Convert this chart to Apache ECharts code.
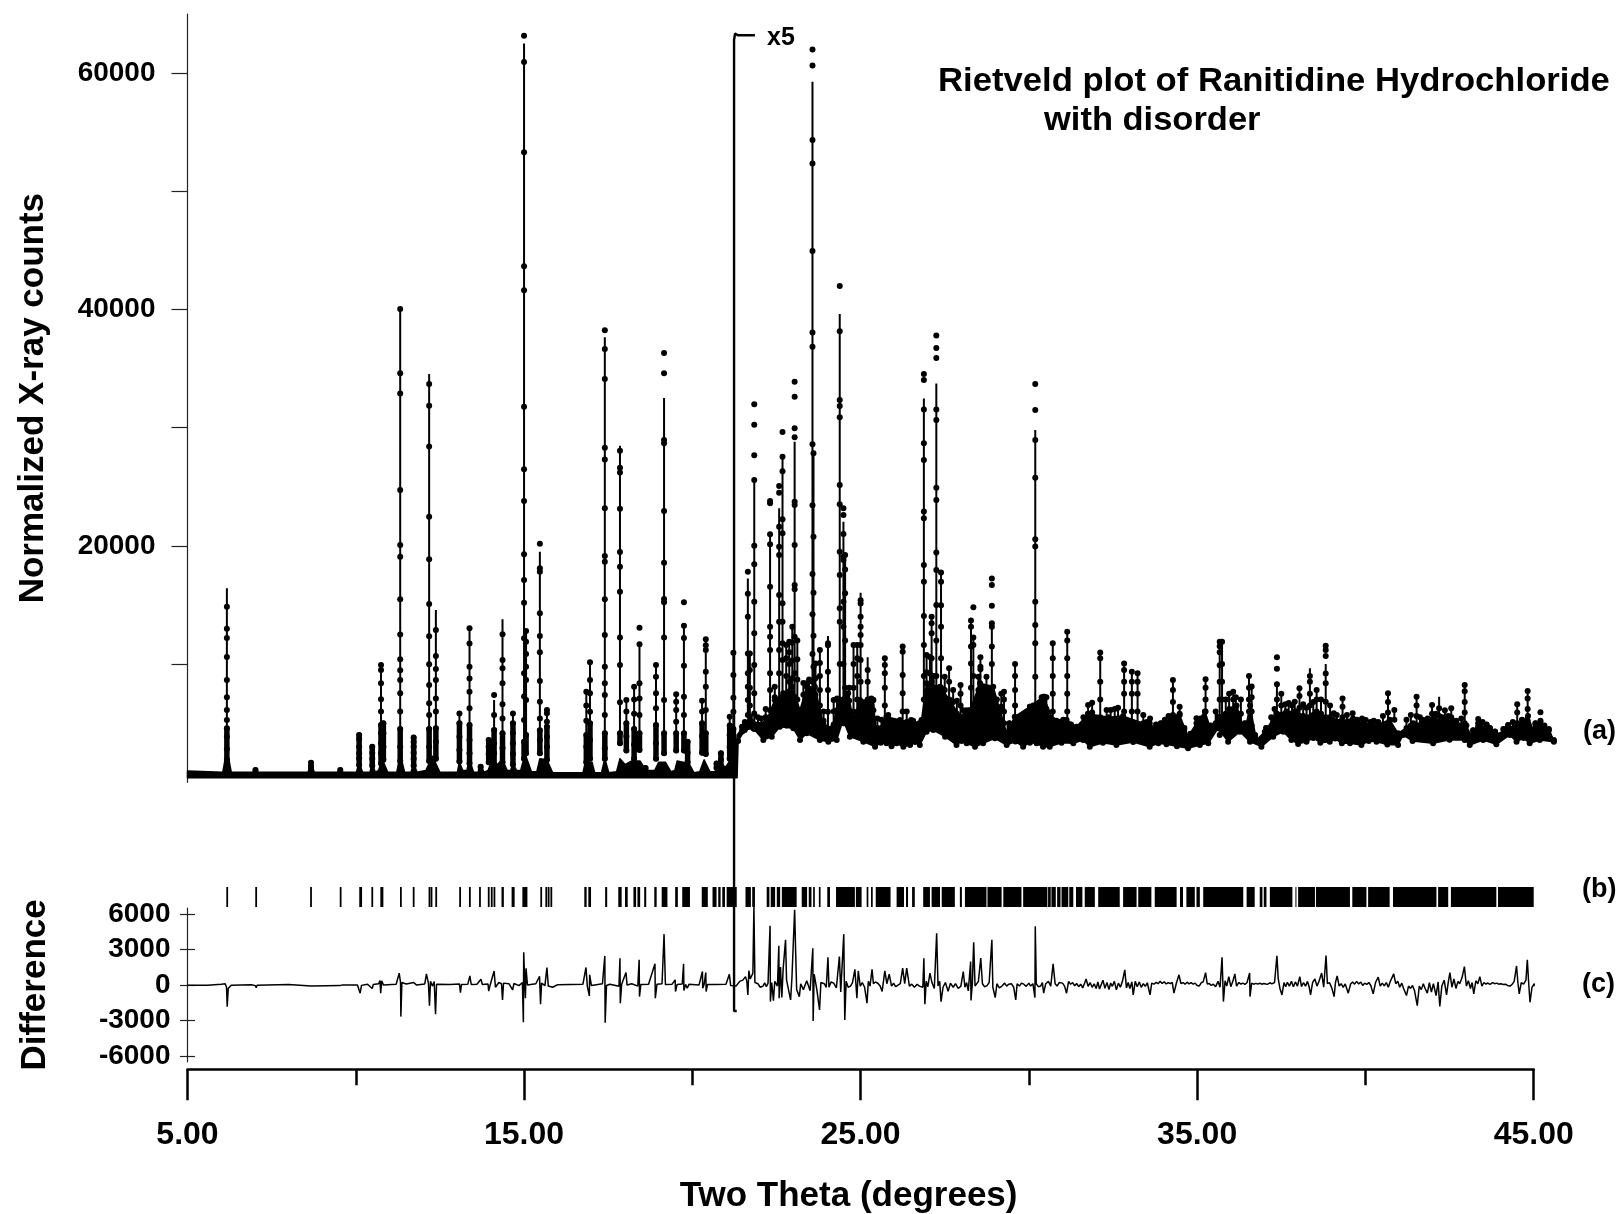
<!DOCTYPE html>
<html><head><meta charset="utf-8"><title>Rietveld plot</title>
<script src="https://cdn.jsdelivr.net/npm/echarts@6/dist/echarts.min.js"></script>
<style>html,body{margin:0;padding:0;background:#fff}#c{width:1620px;height:1214px}</style></head>
<body><div id="c"></div>
<script>
// Peak rows: [two theta, calculated top, observed dots...]
const peaksLow = [
[6.17,16410,14860,12990,12210,10600,8650,7190,6120,5270,4570,3860,2820,1890],
[7.02,1040,1040,800],[8.67,1660,1660,1300,900],[9.54,1040,1040,800],
[10.10,4000,4000,3660,3010,2450,2030,1460],[10.49,3100,3000,2500,2000,1400],
[10.75,10100,9920,9500,8370,7020,5980,4850,4140,3300,2450,1600],[10.82,5000,4990,4140,3000,1900],
[11.32,40000,40040,34600,32900,24730,20070,19090,15480,12500,10400,9470,8650,7530,6000,4500,3000,1800],
[11.72,3900,3800,3400,3000,2500,2000,1400],
[12.18,34540,33700,31860,28400,22470,18860,15080,12350,9980,8230,6680,5700,4500,3000,1800],
[12.38,14580,12880,10690,9580,8650,7100,6000,4570,3430,2000],
[13.08,6000,5820,4990,3860,2730,1750],[13.38,13030,13030,11750,9780,8790,7670,6260,4850,3580,2450,1600],
[13.71,1320,1320,900],[13.95,3580,3580,3000,2400,1700],[14.11,6960,7390,5690,4430,3300,2450,1500],
[14.36,13790,12520,10340,9640,8370,6600,5400,4140,2900,1700],[14.67,5830,5830,5000,4200,3300,2400,1500],
[15.00,62500,63170,60930,53300,43650,41620,31780,26480,23800,19290,17110,15200,12180,9220,7250,5270,3440,2000],
[15.06,12890,12800,11900,10850,9780,8650,6960,4000,2450],
[15.47,19510,20190,18100,17820,14300,12380,11000,8570,6820,5400,4410,3580,2450],
[15.68,6300,6120,5840,5130,4710,3860,3000,1900],
[16.85,7670,7670,6500,5200,4000,3000,1700],[16.96,10300,10150,8650,7530,5970,4990,3580,2000],
[17.40,37660,38250,36650,34110,28310,27320,23180,19150,18660,15480,12460,9780,8370,7390,5700,4140,2880,2000],
[17.85,28480,28060,26620,26200,23150,19480,18240,16130,12240,9920,6780,4140,3300],
[18.04,6960,6960,6000,5000,3900,2700],[18.27,8090,8090,7000,5800,4500,3200,2000],
[18.43,11470,13080,11670,8370,7100,5700,4140,2740],[18.61,1200,1200,900],
[18.92,10060,9920,8930,7530,6260,4850,3300,2000],
[19.16,32510,36330,34600,28960,28680,22950,18580,15510,15230,12240,6960,4140,2450],
[19.52,7530,7440,6820,6120,5130,4140,2700],[19.75,13250,15230,13250,12210,9870,7240,5690,4140,2700],
[19.86,3440,3440,2500,1700],[20.29,6960,6900,6000,5000,3900,2500],
[20.40,12100,12100,11600,11200,9360,8090,6120,4140,2400],
[20.72,1600,1600,1200],[20.85,2450,2450,1900,1400],[21.11,5550,5550,4800,4000,3000,2000],
[21.22,10970,10970,9080,7160,5970,4500,3000,2000]
];
const peaksMid = [
[21.65,17250,17820,15950,14010,10900,9220,8090,6960,5700],
[21.84,25430,31980,30260,27660,25570,20020,18440,15280,12600,9920,7530,5830,4500],
[22.31,21000,23800,23600,20980,20130,16550,13170,12320,11190,9220,7800,6100,4700],
[22.58,23180,25070,24500,21620,19930,19230,15840,13590,11190,9220,7000,5000],
[22.68,27550,29640,27550,26310,22250,21060,15140,13590,11760,10340,7000,5000],
[22.79,11620,11620,10500,9000,7500,6000,4800],[22.88,11900,11900,11000,10000,8500,7000,5000],
[23.04,28820,33880,32620,29950,29190,23740,23460,20070,16690,16330,12320,9220,7240,5830],
[23.40,8370,8370,7500,6500,5000],
[23.57,59270,62000,60650,54330,52360,44950,38060,36850,28590,23430,17620,14210,10860,8500,6000],
[23.60,27830,27830,20780,16040,12400,9780,7000,5000],
[23.79,11190,11190,10100,9000,7800,6500,5000],[24.03,12380,11760,11600,9360,7800,5970,4500],
[24.38,39620,41990,38150,32340,31830,30880,25150,23520,19510,17540,14720,13590,10000,7000,5000],
[24.49,22050,23180,22610,21000,19090,18800,15280,13170,10000,7000,5000],
[24.54,19230,19230,18000,16000,12000,8000,5000],[24.79,11620,11620,10000,8000,6000,4500],
[24.90,11620,11620,10500,9000,7000,5000],
[25.00,16040,15400,15130,14010,13170,12460,11620,10350,8500,6500,5000],
[25.21,10570,9500,8500,7000,5500,4500],[25.32,7100,7100,6500,5500,4500],
[25.72,10490,10490,9920,9220,8000,6500,5000],[26.25,11480,11480,11050,9080,7530,6000,4700],
[26.50,5270,5270,4500],
[26.88,32480,34540,34030,31550,28680,27270,22900,22330,18380,16970,14070,11620,9000,7000,5000],
[27.11,14010,14010,13450,12600,10500,8500,6500,5000],
[27.25,33750,37790,36740,35890,31550,30650,24920,23880,19450,17960,15000,12000,9000,7000,5000],
[27.39,17760,17760,16970,14970,13170,10500,8000,5500],[27.63,9640,9640,8500,7000,5500],
[27.97,8230,8230,7500,6500,5000],[28.28,13680,13680,13170,11480,10060,8000,6000,4700],
[28.35,12300,14800,12260,11620,9000,6500],[28.56,10570,10570,9780,9560,8000,6500,5000],
[28.90,13170,17250,16690,14940,13450,13170,11480,10000,8000,6000,4700],
[29.26,7670,7670,7000,6000,5000],[29.59,10200,10000,9000,7800,6500,5000],
[30.19,29800,33690,31500,28960,25770,20560,19940,15280,13310,11760,8930,6500,4500]
];
const peaksHigh = [
[30.46,7240,7240,6500,5500,4500],[30.71,11760,11760,10500,9000,7500,6000,4700],
[31.14,12740,12740,12000,10500,9000,7500,6000,4700],[31.76,6530,6530,5800,4800],[31.88,6740,6740,5900,4800],
[32.12,10990,10990,10500,8500,7000,5500,4500],[32.43,6120,6120,5200,4400],
[32.83,10060,10060,9500,8500,7500,6000,4600],[33.06,9360,9360,8500,7500,6000,4700],
[33.23,9220,9220,8500,7500,6000,4700],[33.40,5700,5700,4800],[33.60,5400,5400,4500],[34.04,5300,5300,4500],
[34.28,8650,8650,7800,6800,5500,4300],[34.48,6400,6400,5800,4800],[34.98,5410,5410,4600],
[35.25,8710,8710,8000,7000,6000,5000,4000],[35.67,11900,11900,11500,11000,9900,8500,7000,5500,4000],
[35.74,11900,11900,10000,8500,7000,5500],[36.07,7670,7670,7000,6200,5300,4300],[36.15,7200,7200,6400,5400,4400],
[36.54,8990,8990,8000,7000,6000,5000,4000],[36.62,8100,8100,7200,6000,4800],
[37.37,8500,10570,9610,8290,7000,5800,4500],[37.50,7500,7500,6500,5500,4600],[37.90,6820,6820,6000,5000],
[38.04,7950,7950,7300,6300,5200],[38.35,9640,9000,8500,7500,6500,5500,4500],[38.55,7810,7810,7000,6000,5000],
[38.82,10000,11560,11200,10690,9200,8370,6820,5500],[39.06,5840,5840,5000],[39.32,7100,7100,6400,5500,4700],
[39.62,5840,5840,5000],[40.01,5270,5270,4600],[40.38,5100,5100,4500],[40.67,7530,7530,6800,5900,5000],
[40.86,6120,6120,5300],[41.52,7240,7240,6500,5600,4800],[41.73,5270,5270,4600],[41.98,6540,6540,5800,5000],
[42.19,7240,6260,5600,4900],[42.36,6100,6100,5300],[42.55,6260,6260,5500,4800],
[42.95,8230,8230,7700,6800,5900,5000],[43.35,5350,5350,4700],[43.70,4600,4600,4200],[44.24,4840,4840,4300],
[44.51,6600,6600,5900,5000],[44.82,7720,7720,7100,6200,5200,4400],[45.20,5920,5920,5200,4500],[45.45,4500,4500,4000]
];
const peaksSmall = [
[21.48,4700,4700,4300],[21.56,5100,5100,4600],[21.71,10900,10900,9500,8000,6500,5200],[21.95,5500,5500,4900],[22.05,5400,5400,4800],[22.18,6200,6200,5500,4700],
[22.45,8090,8090,7200,6300,5200],[22.97,13170,13170,11800,10300,8800,7300,5800],[23.12,12000,12000,10400,8700,7000,5500],[23.30,8400,8400,7400,6200,5000],
[23.47,8700,8700,7600,6300,5100],[23.66,10060,10060,8800,7400,5800],[23.90,6000,6000,5200,4500],[24.20,6960,6960,6000,4900],[24.30,7100,7100,6100,5000],
[24.66,8000,8000,6900,5700,4600],[25.10,5600,5600,4900,4200],[25.38,6960,6960,6100,5000],[25.50,5400,5400,4600],[25.62,5300,5300,4600],[25.82,5700,5700,4800],[25.98,4800,4800,4200],
[26.10,4900,4900,4300],[26.37,6000,6000,5100,4300],[26.56,5200,5200,4500],[26.72,4900,4900,4300],[26.96,10770,10770,9300,7700,6100],[27.06,10600,10600,9200,7600,6000],[27.17,9000,9000,7800,6300],
[27.50,8930,8930,7800,6400,5000],[27.75,7800,7800,6800,5600],[27.86,6900,6900,5800,4800],[28.05,6100,6100,5200,4400],[28.15,6100,6100,5200,4400],[28.50,8930,8930,7800,6500,5200],[28.74,8930,8930,7800,6500,5200],[28.82,8000,8000,6900,5600],
[29.05,7000,7000,6000,5000],[29.18,7500,7500,6400,5200],[29.42,5000,5000,4400],[29.72,5200,5200,4500],[29.88,4700,4700,4100],[30.03,6400,6400,5500,4600],[30.13,6500,6500,5600,4600],
[30.38,7200,7200,6200,5100],[30.52,7200,7200,6200,5100],[30.82,5200,5200,4500],[30.92,5100,5100,4400],[31.02,5300,5300,4500],[31.25,4900,4900,4300],[31.47,4700,4700,4100],[31.62,5500,5500,4700],
[32.00,5400,5400,4600],[32.31,6120,6120,5300],[32.55,6200,6200,5300],[32.65,6300,6300,5400],[33.50,5100,5100,4400],[33.78,4900,4900,4300],[33.92,5000,5000,4400],[34.15,5600,5600,4700],[34.62,4600,4600,4000],[34.80,4100,4100,3700],
[35.10,5400,5400,4600],[35.40,4800,4800,4100],[35.55,6000,6000,5000],[35.85,7000,7000,5800,4700],[35.95,7500,7500,6200,5000],[36.30,7000,7000,5800,4700],[36.42,5000,5000,4300],[36.72,4000,4000,3600],
[37.05,4600,4600,4000],[37.20,5500,5500,4600],[37.30,6200,6200,5200],[37.62,6600,6600,5500],[37.72,6700,6700,5600],[37.82,6500,6500,5500],[38.15,6600,6600,5600],[38.25,6300,6300,5300],[38.45,6800,6800,5700],[38.68,7000,7000,5800],[38.95,6500,6500,5400],
[39.15,5700,5700,4900],[39.45,5700,5700,4900],[39.75,5300,5300,4600],[39.90,5400,5400,4600],[40.15,5100,5100,4500],[40.25,5200,5200,4500],[40.52,5600,5600,4800],[41.22,5300,5300,4600],[41.35,5700,5700,4800],[41.62,5500,5500,4700],
[41.85,5400,5400,4600],[42.10,5800,5800,4900],[42.28,5500,5500,4700],[42.46,5600,5600,4800],[42.70,5200,5200,4600],[42.85,5400,5400,4700],[43.20,4400,4400,3900],[43.48,5100,5100,4500],[43.60,4900,4900,4300],[43.85,4300,4300,3900],[44.10,4500,4500,4100],[44.38,5100,5100,4500],[44.65,5300,5300,4500],[45.05,5000,5000,4300],[45.32,4800,4800,4200]
];
// Foot of the pattern: lower and upper edge
const bandBottom = [[5,380],[21.33,380],[21.36,3500],[21.56,4425],[21.81,4566],[22.11,3579],[22.36,3861],[22.60,4707],[23.0,4566],[23.2,3579],[23.4,4143],[23.79,3579],[24.04,3438],[24.29,3579],[24.48,5271],[24.68,3861],[25.08,3438],[25.43,3015],[25.6,3350],[25.77,3297],[25.92,3050],[26.07,3297],[26.27,3000],[26.47,3156],[26.62,3400],[26.76,3156],[26.96,4284],[27.16,4425],[27.51,3861],[27.85,3156],[28.0,3500],[28.15,3297],[28.4,3000],[28.64,3297],[28.99,3720],[29.34,3156],[29.6,3450],[29.83,3015],[30.03,3350],[30.23,3297],[30.42,3000],[30.62,3015],[30.97,3350],[31.32,3297],[31.61,3579],[31.81,3015],[32.2,3350],[32.6,3150],[33.1,3400],[33.59,3015],[33.85,3300],[34.09,3213],[34.4,3050],[34.73,2874],[35.08,3156],[35.33,3297],[35.62,4566],[35.92,3438],[36.27,4284],[36.57,3438],[36.91,3015],[37.26,3861],[37.56,4284],[37.80,3579],[38.0,3250],[38.25,3438],[38.45,3750],[38.66,3350],[38.94,3438],[39.1,3700],[39.3,3300],[39.54,3297],[39.88,3156],[40.1,3500],[40.33,3438],[40.65,3200],[40.97,3156],[41.12,4002],[41.4,3500],[42.01,3297],[42.5,3600],[42.95,3579],[43.10,3156],[43.5,3579],[43.89,3213],[44.29,4002],[44.49,3438],[44.7,3750],[44.88,3297],[45.18,3579],[45.6,3438]];
const bandTop = [[5,950],[6.05,850],[6.17,2800],[6.3,850],[8.58,850],[8.67,1600],[8.77,850],[10.02,850],[10.1,1700],[10.2,850],[10.42,850],[10.49,1600],[10.58,850],[10.68,1000],[10.78,2000],[10.95,850],[11.22,850],[11.32,2400],[11.45,850],[11.64,850],[11.72,1600],[11.82,850],[12.08,1000],[12.28,2200],[12.5,850],[13.02,850],[13.08,1700],[13.18,1000],[13.3,1000],[13.38,1900],[13.5,850],[13.65,850],[13.71,1300],[13.82,850],[13.93,1000],[14.05,1900],[14.2,1500],[14.36,1900],[14.5,1000],[14.6,1000],[14.67,1600],[14.78,1000],[14.9,1000],[15.03,2400],[15.22,900],[15.38,900],[15.47,2000],[15.68,1900],[15.85,800],[16.75,800],[16.82,1700],[17.02,1700],[17.1,800],[17.3,800],[17.4,2000],[17.52,800],[17.75,900],[17.85,2000],[18.0,1500],[18.2,1800],[18.45,1800],[18.62,1000],[18.88,1000],[19.0,1700],[19.2,1700],[19.36,900],[19.48,1000],[19.55,1800],[19.9,1600],[20.05,800],[20.22,900],[20.35,1900],[20.52,900],[20.68,900],[20.85,1500],[21.0,1300],[21.15,2000],[21.3,1700],[21.33,3999],[21.56,4848],[21.71,5553],[21.96,4848],[22.21,5271],[22.45,6963],[22.70,7527],[22.95,8091],[23.2,6117],[23.4,8091],[23.64,8091],[23.89,4989],[24.14,4566],[24.38,6963],[24.63,7527],[24.78,5271],[24.98,6963],[25.37,6963],[25.47,4143],[25.77,5553],[26.17,5271],[26.56,4989],[26.81,5271],[26.96,8373],[27.36,8091],[27.65,6963],[27.95,5553],[28.25,6117],[28.55,8373],[28.94,8091],[29.34,4143],[29.58,5553],[30.03,6399],[30.43,7245],[30.72,5271],[31.12,5271],[31.42,4707],[31.76,5800],[32.36,5500],[32.8,5600],[33.40,5000],[33.59,5000],[33.79,4425],[34.07,5000],[34.28,5700],[34.48,5700],[34.73,3861],[34.98,5000],[35.23,6000],[35.43,4284],[35.62,5553],[35.82,5553],[36.17,6500],[36.42,4284],[36.57,6500],[36.76,3579],[37.01,4284],[37.36,5800],[37.65,6000],[37.95,6000],[38.25,5500],[38.65,5700],[38.94,5500],[39.29,5200],[39.63,5400],[39.93,5000],[40.38,4900],[40.72,5300],[40.97,4143],[41.42,5000],[41.71,5000],[42.01,5400],[42.31,5200],[42.60,5200],[43.0,4800],[43.15,3861],[43.35,5000],[43.70,4400],[44.0,4002],[44.24,4600],[44.53,4900],[44.83,5600],[44.98,4425],[45.2,5100],[45.45,4400],[45.6,3579]];
// Difference curve (c)
const diffPoints = [[5,-30],[5.6,-20],[6.0,60],[6.12,90],[6.16,-200],[6.18,-1850],[6.21,-300],[6.3,-20],[6.9,10],[7.02,-60],[7.04,-250],[7.07,-20],[8.0,30],[8.67,-100],[8.72,0],[9.54,-60],[9.6,0],[10.05,0],[10.13,-700],[10.17,-40],[10.35,60],[10.49,-300],[10.52,40],[10.68,100],[10.72,370],[10.74,-700],[10.77,350],[10.82,0],[11.2,60],[11.29,990],[11.33,200],[11.34,-2680],[11.37,200],[11.5,70],[11.72,200],[11.8,0],[12.05,80],[12.1,930],[12.16,100],[12.19,-1750],[12.22,300],[12.28,-100],[12.33,280],[12.37,-2480],[12.4,60],[12.8,30],[13.08,80],[13.11,-650],[13.14,30],[13.33,60],[13.39,760],[13.43,40],[13.6,60],[13.72,480],[13.76,30],[13.93,80],[13.95,-530],[14.0,60],[14.11,1180],[14.15,-200],[14.25,200],[14.33,100],[14.36,-1270],[14.39,150],[14.55,100],[14.66,-430],[14.7,120],[14.85,-60],[14.95,200],[14.98,-3160],[14.99,2760],[15.02,300],[15.04,-1130],[15.06,1410],[15.1,0],[15.35,100],[15.46,730],[15.49,-1640],[15.52,150],[15.62,-60],[15.68,1470],[15.72,-100],[15.85,-200],[16.0,20],[16.75,60],[16.84,1470],[16.88,-100],[16.94,-930],[16.95,850],[17.0,-50],[17.1,0],[17.33,100],[17.40,2450],[17.41,-3190],[17.45,-50],[17.55,60],[17.82,-120],[17.85,2260],[17.86,-1550],[17.9,60],[18.03,1040],[18.06,0],[18.2,100],[18.38,-100],[18.42,2120],[18.43,-990],[18.47,30],[18.7,50],[18.89,1780],[18.9,-1130],[18.95,60],[19.1,100],[19.16,4290],[19.2,30],[19.4,60],[19.49,430],[19.5,-560],[19.55,40],[19.7,80],[19.74,1780],[19.75,-480],[19.8,40],[19.85,-280],[19.9,60],[20.2,0],[20.3,1130],[20.31,-280],[20.35,50],[20.4,1040],[20.41,-560],[20.45,30],[20.7,40],[21.0,60],[21.10,900],[21.14,-60],[21.3,-100],[21.41,300],[21.5,400],[21.58,700],[21.62,300],[21.65,-850],[21.68,1200],[21.72,500],[21.8,1000],[21.83,6630],[21.86,200],[21.95,100],[22.02,-200],[22.1,-100],[22.15,180],[22.2,-150],[22.25,150],[22.31,4990],[22.32,-1410],[22.36,200],[22.41,-1330],[22.45,300],[22.53,-100],[22.57,3300],[22.58,-1130],[22.62,1500],[22.66,-1070],[22.7,1400],[22.77,3810],[22.8,400],[22.92,-1270],[22.96,600],[23.04,6345],[23.07,2800],[23.1,-400],[23.18,-990],[23.22,100],[23.3,-400],[23.4,350],[23.5,-500],[23.58,3100],[23.59,-3050],[23.62,900],[23.7,-400],[23.78,-2120],[23.82,200],[23.92,100],[23.98,-200],[24.03,2340],[24.06,-200],[24.12,250],[24.2,150],[24.28,-250],[24.37,2400],[24.41,-600],[24.50,4290],[24.53,-2960],[24.57,300],[24.63,-200],[24.7,-100],[24.76,200],[24.83,1320],[24.89,-1130],[24.93,1180],[24.99,-100],[25.05,200],[25.12,-200],[25.19,-1550],[25.23,300],[25.28,-100],[25.34,1320],[25.38,100],[25.44,250],[25.52,120],[25.58,-100],[25.64,-560],[25.72,1180],[25.78,100],[25.85,900],[25.92,-100],[25.98,150],[26.04,-150],[26.1,-50],[26.18,100],[26.25,1410],[26.31,100],[26.37,1410],[26.45,-100],[26.52,60],[26.6,-200],[26.68,50],[26.75,-100],[26.85,-200],[26.88,2260],[26.91,-1640],[26.95,300],[27.0,-150],[27.06,1000],[27.12,200],[27.19,-300],[27.26,4370],[27.3,-100],[27.35,300],[27.39,-1410],[27.45,-200],[27.52,200],[27.6,-550],[27.67,150],[27.75,-200],[27.82,100],[27.9,-300],[27.98,-100],[28.05,1130],[28.1,-200],[28.15,200],[28.2,-500],[28.27,1970],[28.28,-1320],[28.32,100],[28.36,3610],[28.4,-100],[28.45,-250],[28.5,300],[28.57,2260],[28.62,100],[28.68,-150],[28.75,-80],[28.82,200],[28.90,3810],[28.93,-200],[29.0,-1070],[29.05,100],[29.12,-250],[29.2,-100],[29.28,150],[29.34,-100],[29.4,60],[29.48,100],[29.55,-200],[29.61,-1270],[29.65,100],[29.72,-100],[29.78,150],[29.85,60],[29.92,-120],[30.0,150],[30.05,-100],[30.12,100],[30.18,-1070],[30.19,4960],[30.22,100],[30.28,-150],[30.35,-100],[30.4,200],[30.44,-700],[30.5,100],[30.58,300],[30.65,-100],[30.72,1780],[30.78,100],[30.84,-100],[30.9,200],[31.0,150],[31.06,-100],[31.12,-700],[31.18,300],[31.24,50],[31.3,200],[31.36,-80],[31.42,120],[31.48,-150],[31.54,60],[31.6,-250],[31.66,180],[31.7,500],[31.76,-120],[31.82,200],[31.88,-200],[31.94,90],[32.0,-300],[32.05,250],[32.1,-350],[32.16,100],[32.2,400],[32.26,-280],[32.32,200],[32.38,-400],[32.43,160],[32.48,-120],[32.54,300],[32.6,-420],[32.66,150],[32.72,-200],[32.78,300],[32.85,1270],[32.9,-250],[32.95,200],[33.0,-300],[33.06,250],[33.10,-850],[33.16,300],[33.22,-150],[33.28,250],[33.34,-200],[33.4,100],[33.46,-120],[33.52,180],[33.60,-850],[33.65,150],[33.72,60],[33.78,220],[33.84,100],[33.9,300],[33.96,120],[34.02,260],[34.08,80],[34.14,200],[34.2,100],[34.26,220],[34.31,-700],[34.38,120],[34.46,850],[34.52,100],[34.58,200],[34.64,60],[34.7,230],[34.76,90],[34.82,200],[34.88,70],[34.94,150],[35.0,-50],[35.06,-100],[35.12,180],[35.18,260],[35.25,1040],[35.3,80],[35.36,120],[35.42,-50],[35.48,60],[35.55,-150],[35.62,300],[35.68,-200],[35.74,2340],[35.78,-1410],[35.83,350],[35.88,-100],[35.94,700],[36.0,-150],[36.06,300],[36.12,930],[36.17,-100],[36.24,200],[36.3,60],[36.36,150],[36.42,50],[36.48,180],[36.56,1000],[36.57,-990],[36.62,150],[36.68,60],[36.74,130],[36.8,70],[36.86,140],[36.92,60],[36.98,120],[37.04,70],[37.1,60],[37.16,180],[37.22,90],[37.3,200],[37.37,2450],[37.41,500],[37.46,-300],[37.52,-850],[37.58,200],[37.63,-150],[37.68,220],[37.74,-100],[37.8,300],[37.86,-150],[37.92,250],[37.98,-100],[38.05,700],[38.1,-150],[38.16,200],[38.22,-100],[38.28,300],[38.33,-200],[38.37,-850],[38.43,200],[38.5,500],[38.56,-100],[38.62,300],[38.70,1000],[38.76,-200],[38.83,2480],[38.87,100],[38.93,200],[39.0,-250],[39.07,-990],[39.11,200],[39.16,760],[39.22,-100],[39.28,100],[39.34,-200],[39.4,80],[39.49,-700],[39.56,80],[39.62,250],[39.68,60],[39.74,300],[39.8,80],[39.86,240],[39.92,-50],[39.98,150],[40.04,40],[40.1,200],[40.16,-50],[40.23,-760],[40.3,200],[40.38,650],[40.44,-100],[40.5,150],[40.56,-80],[40.62,200],[40.68,-200],[40.74,300],[40.84,930],[40.9,100],[40.96,300],[41.02,-200],[41.08,150],[41.14,-350],[41.22,-900],[41.28,-100],[41.34,-300],[41.4,-50],[41.46,-500],[41.54,-1750],[41.6,-100],[41.66,-400],[41.72,100],[41.77,-280],[41.84,-700],[41.9,200],[41.96,-600],[42.02,100],[42.1,-900],[42.16,250],[42.21,-1830],[42.27,-100],[42.34,400],[42.41,-850],[42.46,200],[42.51,1040],[42.57,-200],[42.63,500],[42.69,-300],[42.75,300],[42.80,100],[42.87,600],[42.94,1550],[43.0,-100],[43.06,350],[43.12,-300],[43.17,200],[43.22,-760],[43.28,350],[43.34,100],[43.40,700],[43.46,-100],[43.52,200],[43.58,60],[43.64,160],[43.7,50],[43.78,200],[43.84,100],[43.9,150],[43.96,60],[44.02,100],[44.1,40],[44.16,60],[44.22,-50],[44.3,-100],[44.36,50],[44.42,300],[44.49,1600],[44.53,200],[44.57,-760],[44.63,200],[44.7,60],[44.77,400],[44.81,2120],[44.85,200],[44.89,-1470],[44.95,-200],[45.02,100],[45.08,-300],[45.14,300],[45.2,850],[45.25,-200],[45.31,200],[45.36,-100],[45.43,560],[45.48,100],[45.54,-280]];
// Reflection marks (b)
const rugSingles = [6.18,7.04,8.67,9.55,10.13,10.16,10.49,11.34,11.72,12.19,12.25,12.39,13.10,13.39,13.69,13.95,14.04,14.12,15.51,15.66,15.73,15.81];
const rugBlocks = [[10.73,10.82],[14.33,14.40],[14.63,14.72],[14.95,15.10],[16.79,16.86],[16.91,16.99],[17.41,17.47],[17.80,17.90],[18.00,18.08],[18.25,18.33],[18.37,18.45],[18.57,18.63],[18.87,18.94],[19.09,19.26],[19.49,19.57],[19.70,19.93],[20.28,20.46],[20.60,20.72],[20.77,20.84],[20.89,20.97],[21.02,21.32],[21.58,21.74],[21.78,21.86],[22.21,22.29],[22.33,22.46],[22.51,22.61],[22.66,23.10],[23.25,23.41],[23.46,23.54],[23.59,23.64],[23.76,23.81],[24.01,24.09],[24.27,24.83],[24.86,25.03],[25.18,25.23],[25.31,25.36],[25.45,25.89],[26.07,26.29],[26.35,26.41],[26.53,26.61],[26.86,27.06],[27.11,27.36],[27.41,27.80],[27.95,28.01],[28.10,28.74],[28.77,29.19],[29.24,29.78],[29.83,30.33],[30.33,30.55],[30.57,30.65],[30.67,30.80],[30.84,30.94],[30.97,31.17],[31.20,31.32],[31.40,31.59],[31.66,31.96],[32.06,32.70],[32.80,33.20],[33.25,33.64],[33.74,34.39],[34.49,34.58],[34.68,34.93],[34.98,35.08],[35.18,36.37],[36.47,36.71],[36.86,36.94],[36.98,37.06],[37.16,37.46],[37.46,37.83],[37.92,37.95],[38.00,38.50],[38.53,39.54],[39.61,40.03],[40.08,40.72],[40.82,42.11],[42.16,42.46],[42.54,43.89],[43.94,45.00]];
// Axis ticks
const upperTicks = [10000,20000,30000,40000,50000,60000];
const upperLabels = [20000,40000,60000];
const lowerTicks = [-6000,-3000,0,3000,6000];
const xMajor = [5,15,25,35,45];
const xMinor = [10,20,30,40];
const bracket = [[21.86,63200],[21.35,63200],[21.27,63350],[21.24,62800],[21.24,-19350],[21.32,-19350]];

const allPeaks = peaksLow.concat(peaksMid, peaksHigh, peaksSmall);
const calcLine = [], obsDots = [], flankLine = [];
allPeaks.forEach(function(r){
  const t = r[0], last = r[r.length-1];
  calcLine.push([t, last], [t, r[1]], [t, null]);
  let flankTop = null;
  for (let i = 2; i < r.length; i++) {
    obsDots.push([t, r[i]]);
    if (r[i] <= 5000 && flankTop === null) flankTop = r[i];
  }
  if (flankTop !== null && flankTop !== last) flankLine.push([t, last], [t, flankTop], [t, null]);
});
bandBottom.concat(bandTop).forEach(function(p){ if (p[0] > 21.34) obsDots.push(p); });
const rugLine = [];
rugBlocks.forEach(function(b){ rugLine.push([b[0],0.5],[b[1],0.5],[b[1],null]); });

const FONT = '"Liberation Sans", Arial, sans-serif';
const ink = '#000';
function txt(x, y, s, size, sx){
  return {type:'text', x:x, y:y, z:50, scaleX:sx||1, style:{text:s, fill:ink, font:'bold '+size+'px '+FONT, textAlign:'left', textVerticalAlign:'middle'}};
}
const plain = function(v){ return String(v); };
const L = 187.5, W = 1346.2;
const chart = echarts.init(document.getElementById('c'), null, {renderer:'canvas'});
chart.setOption({
  animation:false, backgroundColor:'#fff',
  grid:[
    {left:L, width:W, top:14, height:768.3, outerBoundsMode:'none'},
    {left:L, width:W, top:908, height:153.8, outerBoundsMode:'none'},
    {left:L, width:W, top:887, height:20, outerBoundsMode:'none'},
    {left:L, width:W, top:908, height:153.8, outerBoundsMode:'none'}
  ],
  xAxis:[
    {gridIndex:0, type:'value', min:5, max:45, show:false},
    {gridIndex:1, type:'value', min:5, max:45, position:'bottom', offset:7.5, splitLine:{show:false},
     axisLine:{show:true, onZero:false, lineStyle:{color:ink, width:2.5}},
     axisTick:{show:true, length:31, customValues:xMajor, lineStyle:{color:ink, width:2.5}},
     axisLabel:{show:true, customValues:xMajor, margin:50, color:ink, fontFamily:FONT, fontWeight:'bold', fontSize:32, formatter:function(v){return v.toFixed(2);}},
     name:'Two Theta (degrees)', nameLocation:'middle', nameGap:110, nameTextStyle:{color:ink, fontFamily:FONT, fontWeight:'bold', fontSize:35, padding:[0,24,0,0]}},
    {gridIndex:3, type:'value', min:5, max:45, position:'bottom', offset:7.5, splitLine:{show:false},
     axisLine:{show:false, onZero:false}, axisLabel:{show:false},
     axisTick:{show:true, length:16, customValues:xMinor, lineStyle:{color:ink, width:2.5}}},
    {gridIndex:2, type:'value', min:5, max:45, show:false}
  ],
  yAxis:[
    {gridIndex:0, type:'value', min:0, max:65000, position:'left', splitLine:{show:false},
     axisLine:{show:true, lineStyle:{color:'#222', width:1.2}},
     axisTick:{show:true, length:16, customValues:upperTicks, lineStyle:{color:'#222', width:1.2}},
     axisLabel:{show:true, customValues:upperLabels, margin:32, padding:[3,0,0,0], color:ink, fontFamily:FONT, fontWeight:'bold', fontSize:28, formatter:plain},
     name:'Normalized X-ray counts', nameLocation:'middle', nameGap:137, nameRotate:90, nameTextStyle:{color:ink, fontFamily:FONT, fontWeight:'bold', fontSize:35}},
    {gridIndex:1, type:'value', min:-6500, max:6500, position:'left', splitLine:{show:false},
     axisLine:{show:true, onZero:false, lineStyle:{color:'#222', width:1.2}},
     axisTick:{show:true, length:7.5, customValues:lowerTicks, lineStyle:{color:'#222', width:1.2}},
     axisLabel:{show:true, customValues:lowerTicks, margin:17, padding:[3,0,0,0], color:ink, fontFamily:FONT, fontWeight:'bold', fontSize:28, formatter:plain},
     name:'Difference', nameLocation:'middle', nameGap:135, nameRotate:90, nameTextStyle:{color:ink, fontFamily:FONT, fontWeight:'bold', fontSize:35}},
    {gridIndex:3, type:'value', min:-6500, max:6500, position:'left', splitLine:{show:false},
     axisLine:{show:false, onZero:false}, axisLabel:{show:false},
     axisTick:{show:true, inside:true, length:7.5, customValues:lowerTicks, lineStyle:{color:'#222', width:1.2}}},
    {gridIndex:2, type:'value', min:0, max:1, show:false}
  ],
  series:[
    {type:'custom', name:'Pattern foot', xAxisIndex:0, yAxisIndex:0, coordinateSystem:'cartesian2d', clip:false, silent:true,
     data:[[5,0]], encode:{x:0,y:1},
     renderItem:function(params, api){
       const pts = bandBottom.concat(bandTop.slice().reverse()).map(function(p){return api.coord(p);});
       return {type:'polygon', shape:{points:pts}, style:{fill:ink, stroke:ink, lineWidth:1.5, lineJoin:'round'}};
     }},
    {type:'line', name:'Flanks', xAxisIndex:0, yAxisIndex:0, data:flankLine, showSymbol:false, clip:false, connectNulls:false, silent:true,
     lineStyle:{color:ink, width:5.5, cap:'round'}},
    {type:'line', name:'Calculated', xAxisIndex:0, yAxisIndex:0, data:calcLine, showSymbol:false, clip:false, connectNulls:false, silent:true,
     lineStyle:{color:ink, width:2}},
    {type:'scatter', name:'Observed', xAxisIndex:0, yAxisIndex:0, data:obsDots, symbol:'circle', symbolSize:6, clip:false, silent:true, large:false,
     itemStyle:{color:ink, opacity:1}},
    {type:'line', name:'x5 marker', xAxisIndex:0, yAxisIndex:0, data:bracket, showSymbol:false, clip:false, silent:true,
     lineStyle:{color:ink, width:2.4}},
    {type:'line', name:'Difference', xAxisIndex:1, yAxisIndex:1, data:diffPoints, showSymbol:false, clip:false, silent:true,
     lineStyle:{color:ink, width:1.5}},
    {type:'scatter', name:'Reflections', xAxisIndex:3, yAxisIndex:3, data:rugSingles.map(function(t){return [t,0.5];}), symbol:'rect', symbolSize:[1.8,20], clip:false, silent:true,
     itemStyle:{color:ink, opacity:1}},
    {type:'line', name:'Reflection blocks', xAxisIndex:3, yAxisIndex:3, data:rugLine, showSymbol:false, clip:false, connectNulls:false, silent:true,
     lineStyle:{color:ink, width:20, cap:'butt'}}
  ],
  graphic:[
    txt(767,38,'x5',25),
    txt(938,82,'Rietveld plot of Ranitidine Hydrochloride',33,1.05),
    txt(1044,121,'with disorder',33,1.045),
    txt(1583,732,'(a)',27),
    txt(1582,890,'(b)',27),
    txt(1582,985,'(c)',27)
  ]
});
</script></body></html>
